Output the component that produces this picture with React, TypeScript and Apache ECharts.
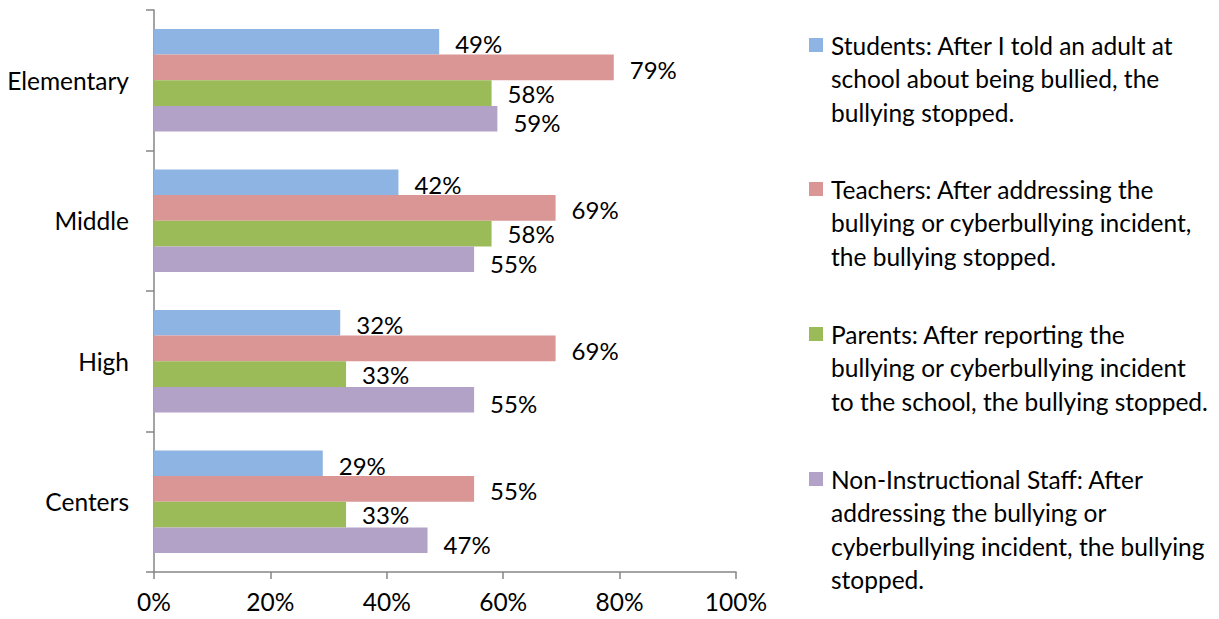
import React, { useEffect, useRef } from "react";
import * as echarts from "echarts";

const categories = ["Elementary", "Middle", "High", "Centers"];
const seriesNames = [
  "Students: After I told an adult at school about being bullied, the bullying stopped.",
  "Teachers: After addressing the bullying or cyberbullying incident, the bullying stopped.",
  "Parents: After reporting the bullying or cyberbullying incident to the school, the bullying stopped.",
  "Non-Instructional Staff: After addressing the bullying or cyberbullying incident, the bullying stopped.",
];
const legendLines = [
  ["Students: After I told an adult at", "school about being bullied, the", "bullying stopped."],
  ["Teachers: After addressing the", "bullying or cyberbullying incident,", "the bullying stopped."],
  ["Parents: After reporting the", "bullying or cyberbullying incident", "to the school, the bullying stopped."],
  ["Non-Instructional Staff: After", "addressing the bullying or", "cyberbullying incident, the bullying", "stopped."],
];
const students = [49, 42, 32, 29];
const teachers = [79, 69, 69, 55];
const parents = [58, 58, 33, 33];
const nonInstructional = [59, 55, 55, 47];
const xTicks = [0, 20, 40, 60, 80, 100];
const colors = ["#8EB4E3", "#D99694", "#9BBB59", "#B3A2C7"];

const FONT = "Lato";
const FS = 24;
const labelOffsets = [2, 2, 0, 4];

export default function App() {
  const ref = useRef<HTMLDivElement>(null);
  useEffect(() => {
    if (!ref.current) return;
    const chart = echarts.init(ref.current, null, { renderer: "svg" });
    const values = [students, teachers, parents, nonInstructional];
    const legendTops = [45, 189, 334, 479];
    const graphic: any[] = [];
    legendLines.forEach((lines, i) => {
      graphic.push({
        type: "rect",
        left: 809,
        top: legendTops[i] - 7,
        shape: { width: 14, height: 14 },
        style: { fill: colors[i] },
      });
      graphic.push({
        type: "text",
        x: 831,
        y: legendTops[i] - 16.75,
        style: {
          text: lines.join("\n"),
          font: `24.5px ${FONT}`,
          lineHeight: 33.5,
          fill: "#000",
          verticalAlign: "top",
          align: "left",
        },
      });
    });
    chart.setOption({
      animation: false,
      grid: { left: 154, top: 10, width: 582, bottom: 47, containLabel: false },
      xAxis: {
        type: "value",
        min: 0,
        max: 100,
        interval: 20,
        splitLine: { show: false },
        axisLine: { show: true, lineStyle: { color: "#868686", width: 1.5 } },
        axisTick: { show: true, length: 7, lineStyle: { color: "#868686", width: 1.5 } },
        axisLabel: {
          margin: 17,
          lineHeight: 24,
          color: "#000",
          fontFamily: FONT,
          fontSize: 24.5,
          formatter: (v: number) => (xTicks.includes(v) ? `${v}%` : ""),
        },
      },
      yAxis: {
        type: "category",
        data: categories,
        inverse: true,
        axisLine: { show: true, lineStyle: { color: "#868686", width: 1.5 } },
        axisTick: { show: true, length: 8, lineStyle: { color: "#868686", width: 1.5 } },
        axisLabel: { margin: 25, color: "#000", fontFamily: FONT, fontSize: 24.5 },
      },
      series: values.map((d, i) => ({
        type: "bar",
        name: seriesNames[i],
        data: d,
        barGap: "0%",
        barCategoryGap: "27%",
        itemStyle: { color: colors[i] },
        label: {
          show: true,
          position: "right",
          distance: 16,
          offset: [0, labelOffsets[i]],
          lineHeight: 22,
          color: "#000",
          fontFamily: FONT,
          fontSize: FS,
          formatter: (p: any) => `${p.value}%`,
        },
      })),
      graphic,
    });
    return () => chart.dispose();
  }, []);
  return <div ref={ref} style={{ width: 1219, height: 619, margin: -8 }} />;
}
